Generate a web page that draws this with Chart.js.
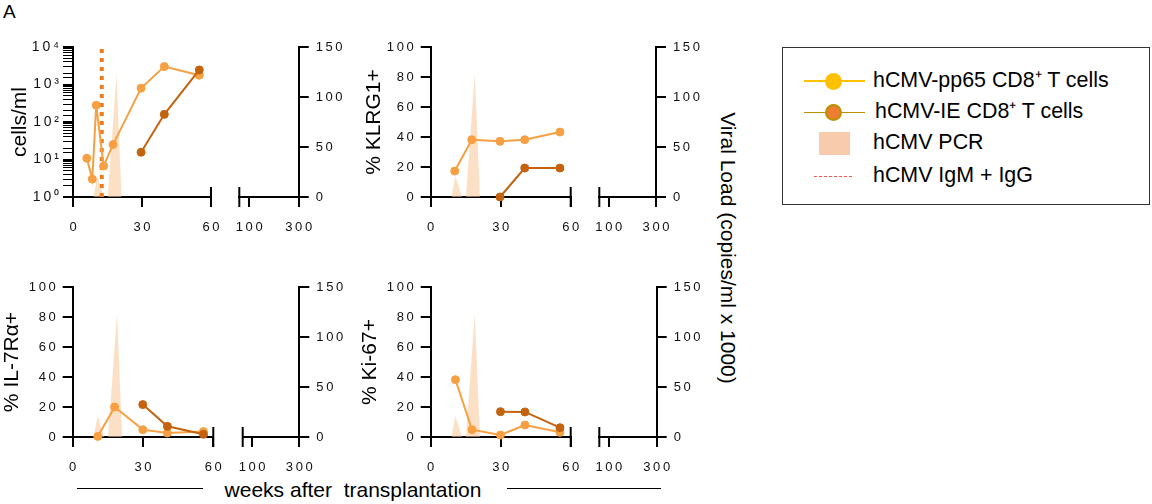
<!DOCTYPE html>
<html>
<head>
<meta charset="utf-8">
<script src="https://cdn.jsdelivr.net/npm/chart.js@4.4.1/dist/chart.umd.min.js"></script>
<style>
  body { margin: 0; width: 1152px; height: 504px; position: relative; background: #fff; overflow: hidden;
         font-family: "Liberation Sans", Arial, sans-serif; color: #000; }
  canvas { position: absolute; left: 0; top: 0; }
  .txt { position: absolute; white-space: nowrap; font-size: 21px; line-height: 1; transform: translateY(-50%); }
  .rule { position: absolute; height: 1px; background: #000; }
  #legend { position: absolute; left: 782px; top: 47px; width: 368px; height: 158px; box-sizing: border-box;
            border: 1.5px solid #333; }
  .mk { position: absolute; }
</style>
</head>
<body>
<div class="txt" style="left:3px;top:11px;font-size:19px">A</div>
<div class="txt" style="left:728px;top:248px;transform:translate(-50%,-50%) rotate(90deg)">Viral Load (copies/ml x 1000)</div>
<div class="rule" style="left:77px;top:488px;width:126px"></div>
<div class="txt" style="left:353px;top:489px;transform:translate(-50%,-50%)">weeks after&nbsp; transplantation</div>
<div class="rule" style="left:507px;top:488px;width:154px"></div>

<div id="legend"></div>
<!-- legend markers -->
<div class="mk" style="left:804px;top:80px;width:61px;height:1.5px;background:#ffc000"></div>
<div class="mk" style="left:825px;top:72.5px;width:17px;height:17px;border-radius:50%;background:#ffc000"></div>
<div class="txt" style="left:873px;top:81px;font-size:21.4px">hCMV-pp65 CD8⁺ T cells</div>
<div class="mk" style="left:804px;top:111.5px;width:61px;height:1.5px;background:#bf9000"></div>
<div class="mk" style="left:825px;top:103.5px;width:17px;height:17px;border-radius:50%;background:#ed7d31;border:2.5px solid #bf9000;box-sizing:border-box"></div>
<div class="txt" style="left:875px;top:112px;font-size:21.4px">hCMV-IE CD8⁺ T cells</div>
<div class="mk" style="left:819px;top:132px;width:31px;height:22.5px;background:#f8cbad"></div>
<div class="txt" style="left:873px;top:143px;font-size:21.4px">hCMV PCR</div>
<div class="mk" style="left:814px;top:175.5px;width:38px;height:0;border-top:1.5px dashed #f4584a"></div>
<div class="txt" style="left:873px;top:176px;font-size:21.4px">hCMV IgM + IgG</div>

<script>
// ---- data ----
const pp65Weeks = [6, 8.4, 10.1, 13.3, 17.4, 29.6, 39.7, 54.9];
const pp65Cells = [10.8, 3, 280, 6.7, 25, 800, 3000, 1760];
const ieWeeks = [29.6, 39.7, 54.9];
const ieCells = [15.6, 160, 2450];

const klrgPpWeeks = [10.3, 17.6, 29.7, 40.3, 55.4];
const klrgPp = [17.3, 38.2, 37.1, 38.2, 43.3];
const klrgIeWeeks = [29.7, 40.3, 55.4];
const klrgIe = [0, 19.3, 19.3];

const il7PpWeeks = [10.7, 17.9, 29.9, 40.4, 55.8];
const il7Pp = [0.4, 20, 4.9, 2.7, 3.6];
const il7IeWeeks = [29.9, 40.4, 55.8];
const il7Ie = [21.6, 7.1, 1.8];

const ki67PpWeeks = [10.6, 17.7, 29.9, 40.4, 55.4];
const ki67Pp = [38.2, 4.9, 1.3, 8, 3.1];
const ki67IeWeeks = [29.9, 40.4, 55.4];
const ki67Ie = [16.9, 16.7, 6.2];

// viral load (copies/ml x 1000), right axis
const pcrWeeks = [8.9, 10.6, 13.4, 15.1, 18.9, 21.1];
const pcrLoad = [0, 21, 0, 0, 123, 0];

const serologyWeek = 12.5;
const mainTicks = [0, 30, 60];
const breakTicks = [100, 300];
const loadTicks = [0, 50, 100, 150];

// ---- styles ----
const PP_COLOR = '#f7a043';
const IE_COLOR = '#c4620e';
const PCR_FILL = 'rgba(249,198,150,0.55)';
const SERO_COLOR = '#ee7b1c';
const FONT = 'Liberation Sans, Arial, sans-serif';
const tickFont = { family: FONT, size: 13 };
const logTickFont = { family: FONT, size: 14 };
const titleFont = { family: FONT, size: 21 };
const W = 1152, H = 504, BOTTOM_H = 40, RIGHT_W = 50;
const SUP = ['⁰', '¹', '²', '³', '⁴'];

const spaced = s => String(s).split('').join('\u2009');
const xy = (xs, ys) => xs.map((x, i) => ({ x: x, y: ys[i] }));

function addCanvas() {
  const c = document.createElement('canvas');
  c.width = W; c.height = H;
  document.body.appendChild(c);
  return c;
}

// vertical bar where the x axis is broken
const breakBar = side => ({
  id: 'breakBar',
  afterDraw(chart) {
    const a = chart.chartArea, ctx = chart.ctx;
    const x = side === 'right' ? a.right : a.left;
    ctx.save();
    ctx.strokeStyle = '#000';
    ctx.lineWidth = 2;
    ctx.beginPath();
    ctx.moveTo(x, a.bottom - 10);
    ctx.lineTo(x, a.bottom + 10);
    ctx.stroke();
    ctx.restore();
  }
});

const axisGrid = { drawOnChartArea: false, tickLength: 10, lineWidth: 2, color: '#000' };
const axisBorder = { color: '#000', width: 2 };

function drawMain(p) {
  const a = p.main;
  const datasets = [
    { data: xy(p.ieW, p.ieV), borderColor: IE_COLOR, backgroundColor: IE_COLOR },
    { data: xy(p.ppW, p.ppV), borderColor: PP_COLOR, backgroundColor: PP_COLOR }
  ];
  if (p.serology) {
    datasets.push({ data: [{ x: serologyWeek, y: 1 }, { x: serologyWeek, y: 10000 }],
      borderColor: SERO_COLOR, borderWidth: 4, borderDash: [4, 5], pointRadius: 0 });
  }
  datasets.push({ data: xy(pcrWeeks, pcrLoad), yAxisID: 'y2', fill: 'origin',
    backgroundColor: PCR_FILL, borderWidth: 0, pointRadius: 0 });

  const yScale = p.log ? {
    type: 'logarithmic', min: 1, max: 10000,
    ticks: {
      autoSkip: false, font: logTickFont, color: '#111', padding: 4,
      callback: v => {
        const e = Math.round(Math.log10(v));
        return Math.abs(Math.log10(v) - e) < 1e-6 ? '1\u20090\u2009' + SUP[e] : '';
      }
    },
    grid: Object.assign({}, axisGrid, { lineWidth: c => (c.tick && c.tick.major) ? 2 : 1 })
  } : {
    type: 'linear', min: 0, max: 100,
    ticks: { stepSize: 20, font: tickFont, color: '#111', padding: 7, callback: v => spaced(v) },
    grid: axisGrid
  };
  Object.assign(yScale, {
    border: axisBorder,
    title: { display: true, text: p.title, font: titleFont, color: '#000', padding: 0 },
    afterFit: s => { s.width = p.leftW; }
  });

  new Chart(addCanvas(), {
    type: 'line',
    data: { datasets: datasets },
    options: {
      responsive: false, animation: false,
      layout: { padding: { left: a.l - p.leftW, top: a.t, right: W - a.r, bottom: H - a.b - BOTTOM_H } },
      elements: { line: { tension: 0, borderWidth: 2 }, point: { radius: 4, borderWidth: 1 } },
      datasets: { line: { clip: false } },
      plugins: { legend: { display: false }, tooltip: { enabled: false } },
      scales: {
        x: {
          type: 'linear', min: 0, max: 60,
          afterBuildTicks: s => { s.ticks = mainTicks.map(v => ({ value: v })); },
          ticks: { font: tickFont, color: '#111', padding: 13, maxRotation: 0, callback: v => spaced(v) },
          grid: axisGrid, border: axisBorder,
          afterFit: s => { s.height = BOTTOM_H; }
        },
        y: yScale,
        y2: { type: 'linear', display: false, min: 0, max: 150 }
      }
    },
    plugins: [breakBar('right')]
  });
}

function drawBreak(p) {
  const a = p.brk;
  new Chart(addCanvas(), {
    type: 'line',
    data: { datasets: [] },
    options: {
      responsive: false, animation: false,
      layout: { padding: { left: a.l, top: a.t, right: W - a.r - RIGHT_W, bottom: H - a.b - BOTTOM_H } },
      plugins: { legend: { display: false }, tooltip: { enabled: false } },
      scales: {
        x: {
          type: 'linear', min: 60, max: 300,
          afterBuildTicks: s => { s.ticks = breakTicks.map(v => ({ value: v })); },
          ticks: { font: tickFont, color: '#111', padding: 13, maxRotation: 0, callback: v => spaced(v) },
          grid: axisGrid, border: axisBorder,
          afterFit: s => { s.height = BOTTOM_H; }
        },
        y: { display: false, min: 0, max: 150 },
        yR: {
          type: 'linear', position: 'right', min: 0, max: 150,
          afterBuildTicks: s => { s.ticks = loadTicks.map(v => ({ value: v })); },
          ticks: { font: tickFont, color: '#111', padding: 7, callback: v => spaced(v) },
          grid: axisGrid, border: axisBorder,
          afterFit: s => { s.width = RIGHT_W; }
        }
      }
    },
    plugins: [breakBar('left')]
  });
}

const panels = [
  { ppW: pp65Weeks, ppV: pp65Cells, ieW: ieWeeks, ieV: ieCells, log: true, serology: true,
    title: 'cells/ml', leftW: 65.6,
    main: { l: 73, r: 211, t: 47, b: 197 }, brk: { l: 239.3, r: 298.7, t: 47, b: 197 } },
  { ppW: klrgPpWeeks, ppV: klrgPp, ieW: klrgIeWeeks, ieV: klrgIe,
    title: '% KLRG1+', leftW: 69.3,
    main: { l: 430.7, r: 570.7, t: 47, b: 197 }, brk: { l: 599.3, r: 656, t: 47, b: 197 } },
  { ppW: il7PpWeeks, ppV: il7Pp, ieW: il7IeWeeks, ieV: il7Ie,
    title: '% IL-7Rα+', leftW: 72.8,
    main: { l: 72.7, r: 213.3, t: 287, b: 437 }, brk: { l: 242.7, r: 299.3, t: 287, b: 437 } },
  { ppW: ki67PpWeeks, ppV: ki67Pp, ieW: ki67IeWeeks, ieV: ki67Ie,
    title: '% Ki-67+', leftW: 72.8,
    main: { l: 430.7, r: 570.7, t: 287, b: 437 }, brk: { l: 599.3, r: 656.7, t: 287, b: 437 } }
];

panels.forEach(p => { drawMain(p); drawBreak(p); });
</script>
</body>
</html>
